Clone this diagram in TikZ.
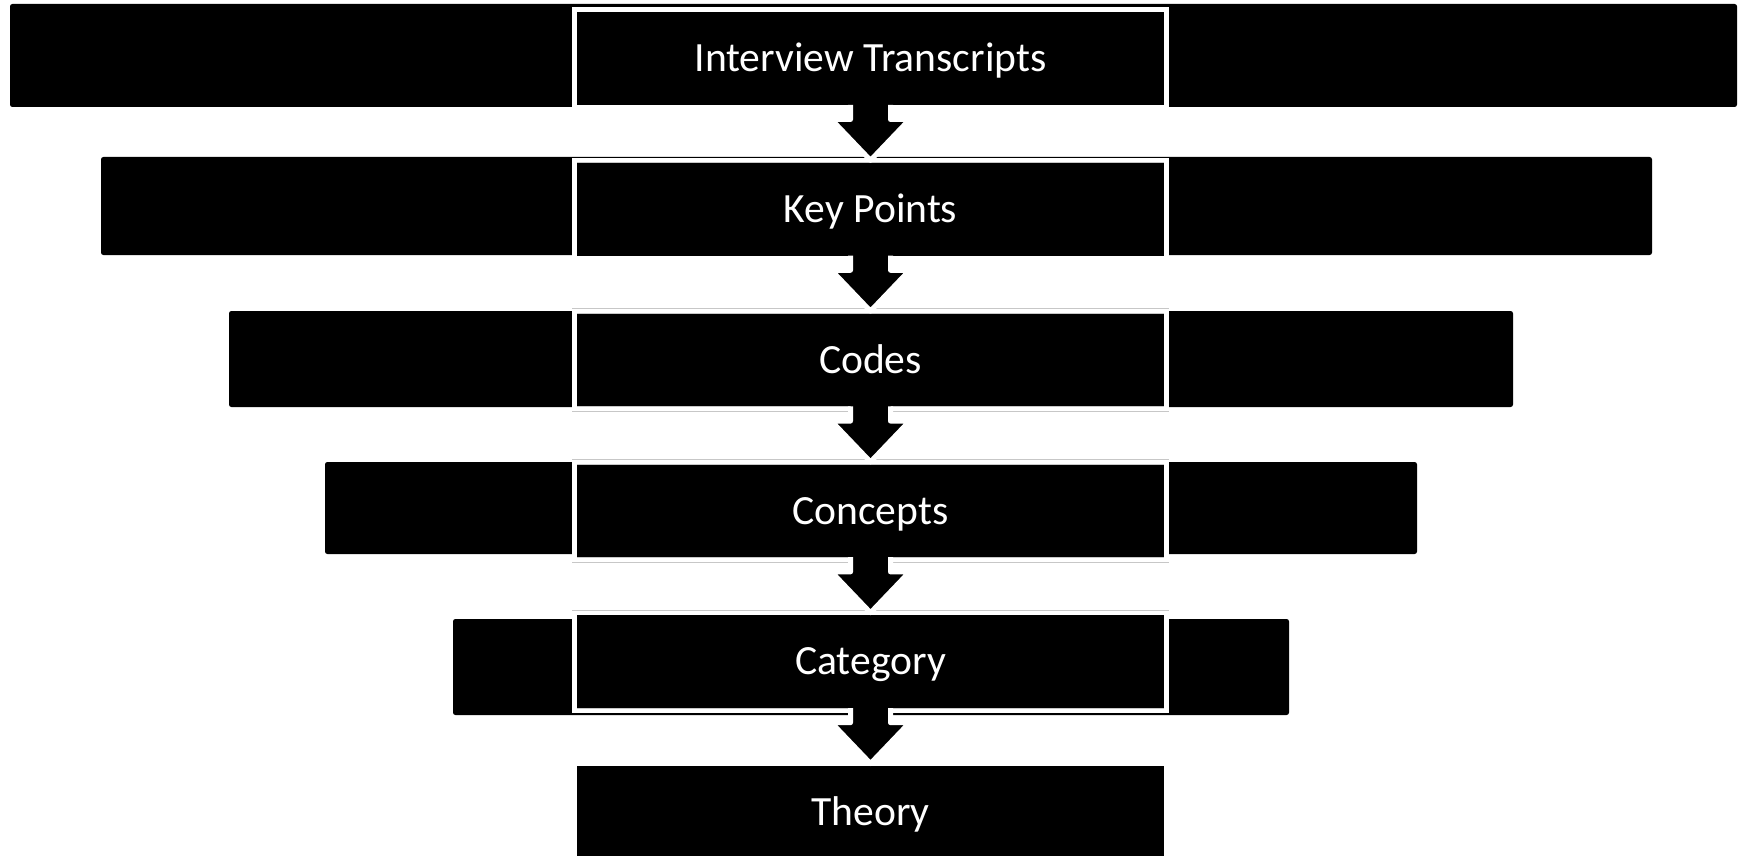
\documentclass[tikz,border=0pt]{standalone}
\usepackage{fontspec}
\setmainfont{Carlito}
\usetikzlibrary{calc}
\tikzset{
  bar/.style={fill=black, draw=none, rounded corners=1.2pt, inner sep=0pt, outer sep=0pt},
  stage/.style={fill=black, draw=black!22, double=white, double distance=2.2pt, line width=0.25pt,
    minimum width=296pt, minimum height=49pt, inner sep=0pt, outer sep=0pt, text=white,
    font=\fontsize{20.8}{24}\selectfont, text height=13.2pt, text depth=0pt},
  flowfill/.style={fill=black},
  flowline/.style={draw=white, line width=2.5pt, line join=round},
}
\begin{document}
\begin{tikzpicture}[x=0.5pt, y=-0.5pt]
\useasboundingbox (0,0) rectangle (1746,856);
% background bars
\node[bar, minimum width=863.5pt, minimum height=51.5pt] (bar1) at (873.5,55.5) {};
\node[bar, minimum width=775.5pt, minimum height=49pt]   (bar2) at (876.5,206) {};
\node[bar, minimum width=642pt,   minimum height=48pt]   (bar3) at (871,359) {};
\node[bar, minimum width=546pt,   minimum height=46pt]   (bar4) at (871,508) {};
\node[bar, minimum width=418pt,   minimum height=48pt]   (bar5) at (871,667) {};
% stage boxes
\node[stage] (s1) at (870.5,58.5)  {Interview Transcripts};
\node[stage] (s2) at (870.5,209.3) {Key Points};
\node[stage] (s3) at (870.5,360.1) {Codes};
\node[stage] (s4) at (870.5,510.9) {Concepts};
\node[stage] (s5) at (870.5,661.7) {Category};
\node[stage] (s6) at (870.5,812.5) {Theory};
% arrows
\foreach \a/\b in {s1/s2,s2/s3,s3/s4,s4/s5,s5/s6}{
  \fill[flowfill] ($(\a.south)+(-20,-5)$) -- ($(\a.south)+(-20,12)$) -- ($(\a.south)+(-39,12)$)
    -- (\b.north) -- ($(\a.south)+(39,12)$) -- ($(\a.south)+(20,12)$)
    -- ($(\a.south)+(20,-5)$) -- cycle;
  \draw[flowline] ($(\a.south)+(-20,-2.7)$) -- ($(\a.south)+(-20,12)$) -- ($(\a.south)+(-39,12)$)
    -- (\b.north) -- ($(\a.south)+(39,12)$) -- ($(\a.south)+(20,12)$)
    -- ($(\a.south)+(20,-2.7)$);
}
\end{tikzpicture}
\end{document}
